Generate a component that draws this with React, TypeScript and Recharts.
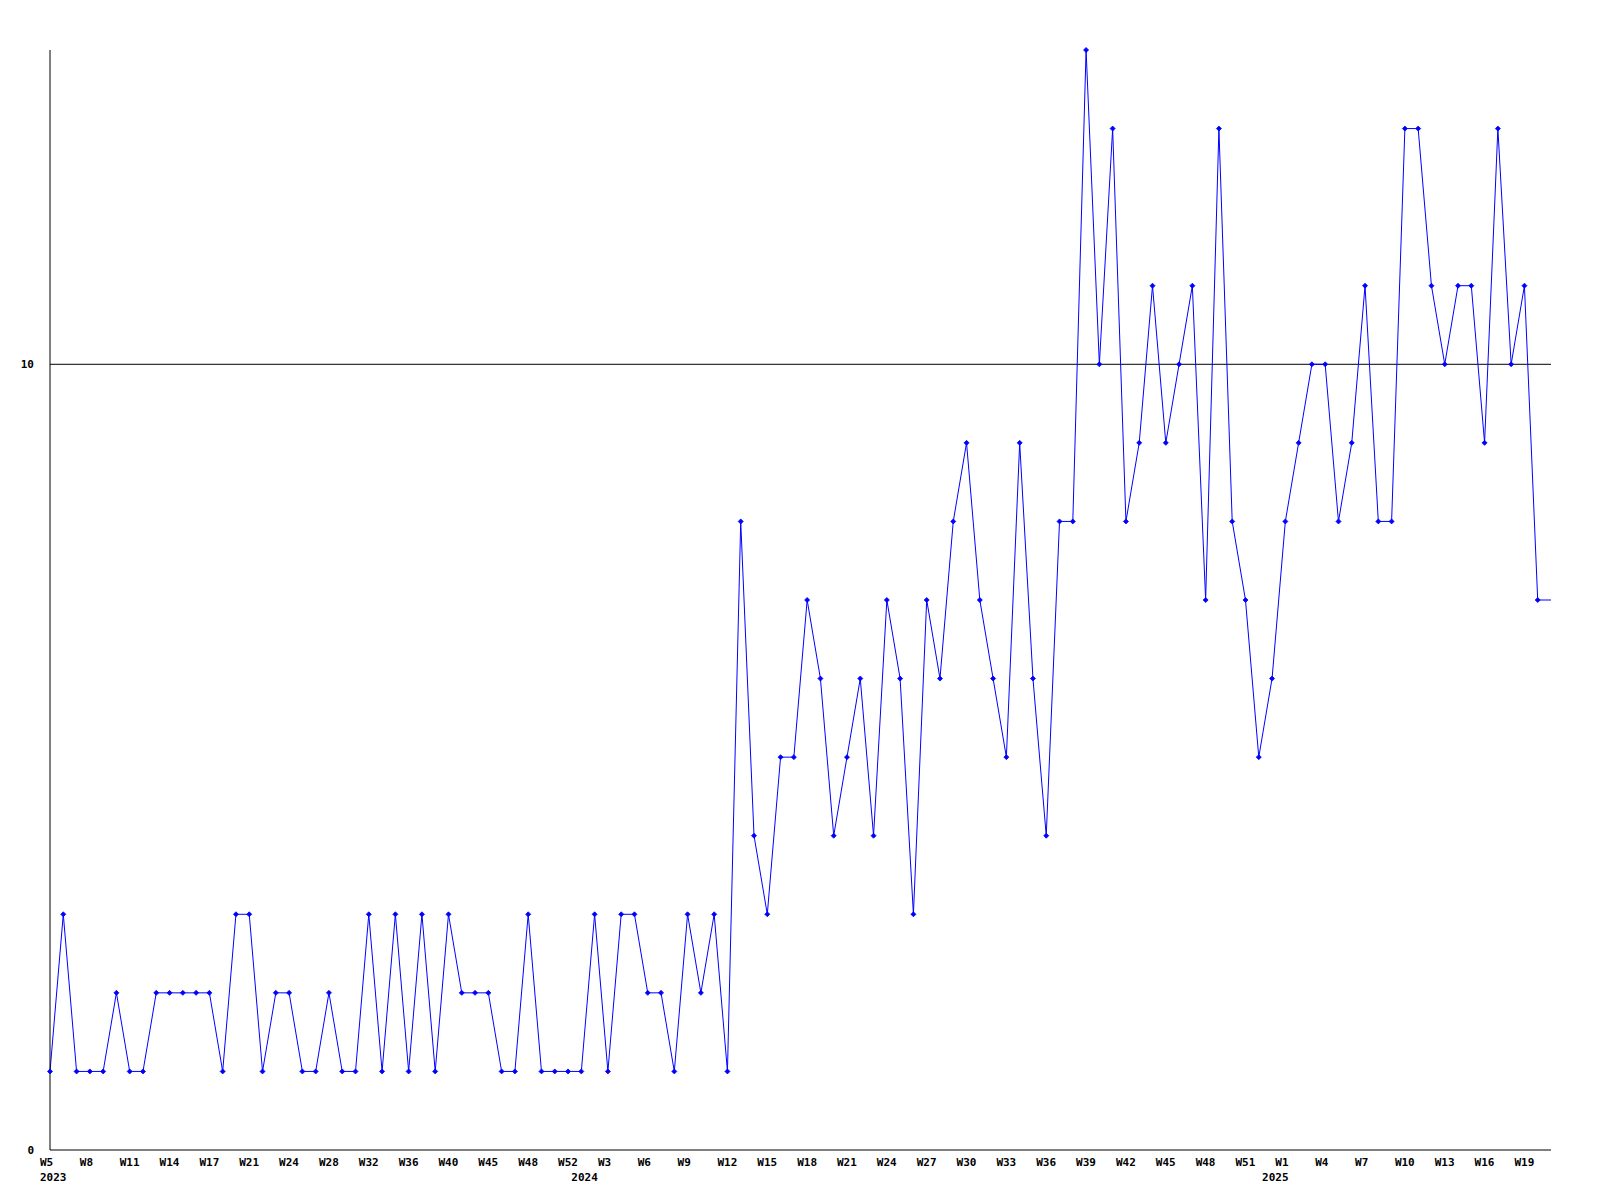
import { Line, LineChart, ReferenceLine, XAxis, YAxis } from "recharts";

// weekly buckets, one point each; some 2023 weeks have no row
const WEEKS_2023 = [
  "W5", "W6", "W7", "W8", "W9", "W10", "W11", "W12", "W13", "W14",
  "W15", "W16", "W17", "W18", "W20", "W21", "W22", "W23", "W24", "W25",
  "W27", "W28", "W29", "W31", "W32", "W33", "W35", "W36", "W37", "W39",
  "W40", "W42", "W43", "W45", "W46", "W47", "W48", "W49", "W51", "W52",
];
const WEEKS_2024 = [
  "W1", "W2", "W3", "W4", "W5", "W6", "W7", "W8", "W9", "W10",
  "W11", "W12", "W13", "W14", "W15", "W16", "W17", "W18", "W19", "W20",
  "W21", "W22", "W23", "W24", "W25", "W26", "W27", "W28", "W29", "W30",
  "W31", "W32", "W33", "W34", "W35", "W36", "W37", "W38", "W39", "W40",
  "W41", "W42", "W43", "W44", "W45", "W46", "W47", "W48", "W49", "W50",
  "W51", "W52",
];
const WEEKS_2025 = [
  "W0", "W1", "W2", "W3", "W4", "W5", "W6", "W7", "W8", "W9", "W10",
  "W11", "W12", "W13", "W14", "W15", "W16", "W17", "W18", "W19", "W20",
  "W21",
];

const VALUES_2023 = [
  1, 3, 1, 1, 1, 2, 1, 1, 2, 2, 2, 2, 2, 1, 3, 3, 1, 2, 2, 1,
  1, 2, 1, 1, 3, 1, 3, 1, 3, 1, 3, 2, 2, 2, 1, 1, 3, 1, 1, 1,
];
const VALUES_2024 = [
  1, 3, 1, 3, 3, 2, 2, 1, 3, 2, 3, 1, 8, 4, 3, 5, 5, 7, 6, 4,
  5, 6, 4, 7, 6, 3, 7, 6, 8, 9, 7, 6, 5, 9, 6, 4, 8, 8, 14, 10,
  13, 8, 9, 11, 9, 10, 11, 7, 13, 8, 7, 5,
];
const VALUES_2025 = [
  6, 8, 9, 10, 10, 8, 9, 11, 8, 8, 13, 13, 11, 10, 11, 11, 9, 13, 10, 11,
  7, 7,
];

const Y_TICKS = [0, 10];
const Y_MAX = 14;
const THRESHOLD = 10;

const LINE_COLOUR = "#0000ff";
const FONT = "'DejaVu Sans Mono', monospace";

interface Row {
  key: string;
  week: string;
  year: string;
  value: number;
  firstOfYear: boolean;
}

function buildRows(): Row[] {
  const parts: [string, string[], number[]][] = [
    ["2023", WEEKS_2023, VALUES_2023],
    ["2024", WEEKS_2024, VALUES_2024],
    ["2025", WEEKS_2025, VALUES_2025],
  ];
  const out: Row[] = [];
  for (const [year, weeks, values] of parts) {
    weeks.forEach((week, i) => {
      out.push({ key: `${year}-${week}`, week, year, value: values[i], firstOfYear: i === 0 });
    });
  }
  return out;
}

const rows = buildRows();
const rowByKey: Record<string, { row: Row; index: number }> = {};
rows.forEach((row, index) => {
  rowByKey[row.key] = { row, index };
});

function WeekTick(props: any) {
  const { x, y, payload } = props;
  const hit = rowByKey[payload?.value];
  if (!hit) return null;
  const showWeek = hit.index % 3 === 0;
  return (
    <g>
      {showWeek && (
        <text x={x - 10} y={y + 16} textAnchor="start" fontFamily={FONT} fontWeight="bold" fontSize={11} fill="#000">
          {hit.row.week}
        </text>
      )}
      {hit.row.firstOfYear && (
        <text x={x - 10} y={y + 31} textAnchor="start" fontFamily={FONT} fontWeight="bold" fontSize={11} fill="#000">
          {hit.row.year}
        </text>
      )}
    </g>
  );
}

function Marker(props: any) {
  const { cx, cy, index } = props;
  if (cx == null || cy == null || index === rows.length - 1) return <g key={`m-${index}`} />;
  const r = 2.5;
  return (
    <path
      key={`m-${index}`}
      d={`M${cx - r},${cy} L${cx},${cy - r} L${cx + r},${cy} L${cx},${cy + r} Z`}
      fill={LINE_COLOUR}
      stroke={LINE_COLOUR}
      strokeWidth={0.8}
    />
  );
}

export default function App() {
  return (
    <div style={{ position: "absolute", left: 0, top: 0, background: "#fff" }}>
      <LineChart width={1600} height={1200} data={rows} margin={{ top: 50, right: 49, bottom: 0, left: 0 }}>
        <XAxis
          dataKey="key"
          interval={0}
          height={50}
          tickLine={false}
          tickSize={0}
          tickMargin={0}
          axisLine={{ stroke: "#000", strokeWidth: 1 }}
          tick={<WeekTick />}
        />
        <YAxis
          width={50}
          domain={[0, Y_MAX]}
          ticks={Y_TICKS}
          tickLine={false}
          tickSize={0}
          tickMargin={16}
          axisLine={{ stroke: "#000", strokeWidth: 1 }}
          tick={{ fontFamily: FONT, fontWeight: "bold", fontSize: 11, fill: "#000" }}
        />
        <ReferenceLine y={THRESHOLD} stroke="#000" strokeWidth={1} />
        <Line
          type="linear"
          dataKey="value"
          stroke={LINE_COLOUR}
          strokeWidth={1}
          dot={<Marker />}
          activeDot={false}
          isAnimationActive={false}
        />
      </LineChart>
    </div>
  );
}
